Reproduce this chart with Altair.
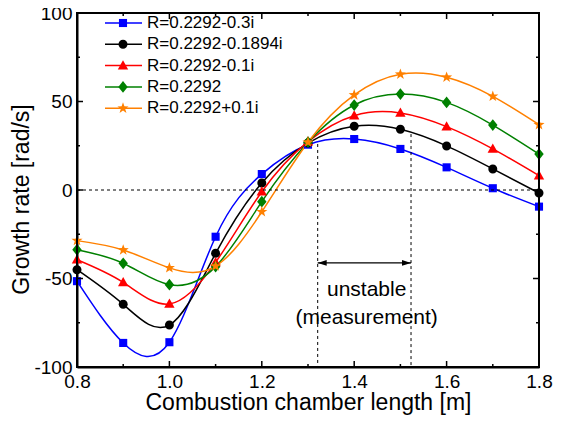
import altair as alt
import pandas as pd

# ---------------- data ----------------
lengths = [0.8, 0.9, 1.0, 1.1, 1.2, 1.3, 1.4, 1.5, 1.6, 1.7, 1.8]
series_names = ["R=0.2292-0.3i", "R=0.2292-0.1894i", "R=0.2292-0.1i", "R=0.2292", "R=0.2292+0.1i"]
blue_vals = [-51.5, -86.4, -86.0, -26.4, 9.0, 25.6, 28.8, 23.2, 12.8, 1.0, -9.4]
black_vals = [-45.0, -64.6, -76.3, -35.8, 4.0, 26.5, 36.0, 34.3, 24.9, 11.9, -1.7]
red_vals = [-39.4, -52.2, -64.4, -40.9, -1.0, 27.3, 42.0, 43.5, 35.8, 23.2, 8.1]
green_vals = [-33.7, -41.4, -53.5, -43.3, -6.6, 27.0, 48.0, 54.2, 49.5, 36.7, 20.3]
orange_vals = [-28.6, -33.9, -44.0, -43.0, -12.3, 27.0, 53.7, 65.4, 63.7, 52.9, 36.9]
colors = ["#0000FF", "#000000", "#FF0000", "#008000", "#FF8000"]

x_major = [0.8, 1.0, 1.2, 1.4, 1.6, 1.8]
x_minor = [0.9, 1.1, 1.3, 1.5, 1.7]
y_major = [-100, -50, 0, 50, 100]
y_minor = [-75, -25, 25, 75]

unstable_x = [1.321, 1.523]
unstable_top = [26.0, 31.6]
arrow_y = -41.2
note_x = 1.427
note_lines = ["unstable", "(measurement)"]
note_y = [-59.7, -75.7]

# ---------------- geometry / styles ----------------
W, H = 462, 354
FONT = "Liberation Sans"
X0, X1 = 0.8, 1.8
Y0, Y1 = -100, 100
px_x = (X1 - X0) / W
px_y = (Y1 - Y0) / H

LEG_LINE = (28, 65)
LEG_SYM = 46
LEG_TEXT = 70
LEG_ROW0, LEG_ROWSTEP = 10, 21.3

sq = "M-0.9,-0.9L0.9,-0.9L0.9,0.9L-0.9,0.9Z"
ci = "M1,0A1,1,0,1,1,-1,0A1,1,0,1,1,1,0Z"
tr = "M0,-1.2L1.15,0.85L-1.15,0.85Z"
di = "M0,-1.3L1.05,0L0,1.3L-1.05,0Z"
st = ("M0,-1.3L0.306,-0.421L1.236,-0.402L0.495,0.161L0.764,1.052L0,0.52"
      "L-0.764,1.052L-0.495,0.161L-1.236,-0.402L-0.306,-0.421Z")
marker_paths = [sq, ci, tr, di, st]
head = "M0,0L2,-0.65L2,0.65Z"

# ---------------- tables ----------------
all_vals = [blue_vals, black_vals, red_vals, green_vals, orange_vals]
rows = []
for name, vals in zip(series_names, all_vals):
    for xv, yv in zip(lengths, vals):
        rows.append({"x": xv, "y": yv, "series": name})
df = pd.DataFrame(rows)

leg_rows = []
for i, name in enumerate(series_names):
    yy = Y1 - (LEG_ROW0 + LEG_ROWSTEP * i) * px_y
    leg_rows.append({"series": name, "y": yy,
                     "x": X0 + LEG_LINE[0] * px_x, "x2": X0 + LEG_LINE[1] * px_x,
                     "xs": X0 + LEG_SYM * px_x, "xt": X0 + LEG_TEXT * px_x})
leg_df = pd.DataFrame(leg_rows)

# markers of the data and of the legend in one table
pts_df = pd.concat([df, pd.DataFrame({"x": leg_df["xs"], "y": leg_df["y"],
                                      "series": leg_df["series"]})], ignore_index=True)

dashed_df = pd.DataFrame([
    dict(x=X0, x2=X1, y=0, y2=0),
    dict(x=unstable_x[0], x2=unstable_x[0], y=unstable_top[0], y2=Y0),
    dict(x=unstable_x[1], x2=unstable_x[1], y=unstable_top[1], y2=Y0),
])
shaft_df = pd.DataFrame({"x": [unstable_x[0]], "x2": [unstable_x[1]], "y": [arrow_y]})
heads_df = pd.DataFrame({"x": unstable_x, "y": [arrow_y, arrow_y], "a": [0, 180]})
notes_df = pd.DataFrame({"x": [note_x] * len(note_lines), "y": note_y, "t": note_lines})

# ---------------- scales / axes ----------------
xscale = alt.Scale(domain=[X0, X1], nice=False, zero=False)
yscale = alt.Scale(domain=[Y0, Y1], nice=False, zero=False)
cscale = alt.Scale(domain=series_names, range=colors)
shscale = alt.Scale(domain=series_names, range=marker_paths)

xaxis = alt.Axis(values=x_major, labelExpr="format(datum.value, '.1f')", ticks=False,
                 domain=True, domainColor="black", domainWidth=2, grid=False,
                 labelFontSize=19, labelPadding=5,
                 labelFlush=False, labelOverlap=False,
                 title="Combustion chamber length [m]", titleFontSize=23,
                 titleFontWeight="normal", titlePadding=0, labelFont=FONT, titleFont=FONT,
                 labelColor="black", titleColor="black")
yaxis = alt.Axis(values=y_major, labelExpr="'' + datum.value", ticks=False,
                 domain=True, domainColor="black", domainWidth=2, grid=False,
                 labelFontSize=19, labelPadding=5,
                 labelFlush=False, labelOverlap=False,
                 title="Growth rate [rad/s]", titleFontSize=23, titleFontWeight="normal",
                 titlePadding=0, titleY=186, labelFont=FONT, titleFont=FONT,
                 labelColor="black", titleColor="black")

X = alt.X("x:Q", scale=xscale)
Y = alt.Y("y:Q", scale=yscale)

base = alt.Chart(df)

lines = base.mark_line(interpolate="natural", strokeWidth=1.5).encode(
    x=alt.X("x:Q", scale=xscale, axis=xaxis),
    y=alt.Y("y:Q", scale=yscale, axis=yaxis),
    color=alt.Color("series:N", scale=cscale, legend=None),
    detail="series:N",
)

points = alt.Chart(pts_df).mark_point(filled=True, size=81, opacity=1, strokeWidth=0).encode(
    x=X, y=Y,
    color=alt.Color("series:N", scale=cscale, legend=None),
    shape=alt.Shape("series:N", scale=shscale, legend=None),
)

leg_base = alt.Chart(leg_df)
leg_lines = leg_base.mark_rule(strokeWidth=1.5).encode(
    x=X, x2="x2:Q", y=Y,
    color=alt.Color("series:N", scale=cscale, legend=None),
)
leg_text = leg_base.mark_text(align="left", baseline="middle", fontSize=17, font=FONT,
                              color="black").encode(
    x=alt.X("xt:Q", scale=xscale), y=Y, text="series:N",
)

dashed_rules = alt.Chart(dashed_df).mark_rule(color="black", strokeWidth=1, strokeDash=[3, 3]).encode(
    x=X, x2="x2:Q", y=Y, y2="y2:Q",
)
shaft = alt.Chart(shaft_df).mark_rule(color="black", strokeWidth=1.3).encode(
    x=X, x2="x2:Q", y=Y,
)
heads = alt.Chart(heads_df).mark_point(
    shape=head, filled=True, size=81, opacity=1, color="black", strokeWidth=0
).encode(x=X, y=Y, angle=alt.Angle("a:Q", scale=None))

notes = alt.Chart(notes_df).mark_text(fontSize=21, font=FONT, color="black",
                                      align="center", baseline="alphabetic").encode(
    x=X, y=Y, text="t:N",
)

# frame of the plot area
one = pd.DataFrame({"k": [0]})
frame_layers = [
    alt.Chart(one).mark_rule(color="black", strokeWidth=2).encode(
        x=alt.value(0), y=alt.value(0), y2=alt.value(H)),
    alt.Chart(one).mark_rule(color="black", strokeWidth=2).encode(
        x=alt.value(W), y=alt.value(0), y2=alt.value(H)),
    alt.Chart(one).mark_rule(color="black", strokeWidth=2).encode(
        y=alt.value(0), x=alt.value(0), x2=alt.value(W)),
    alt.Chart(one).mark_rule(color="black", strokeWidth=2).encode(
        y=alt.value(H), x=alt.value(0), x2=alt.value(W)),
]

# inward ticks on all four sides
def vticks(vals, length, bottom):
    d = pd.DataFrame({"v": vals})
    y0 = H if bottom else 0
    y1 = H - length if bottom else length
    return alt.Chart(d).mark_rule(color="black", strokeWidth=1.5).encode(
        x=alt.X("v:Q", scale=xscale), y=alt.value(y0), y2=alt.value(y1))

def hticks(vals, length, left):
    d = pd.DataFrame({"v": vals})
    x0 = 0 if left else W
    x1 = length if left else W - length
    return alt.Chart(d).mark_rule(color="black", strokeWidth=1.5).encode(
        y=alt.Y("v:Q", scale=yscale), x=alt.value(x0), x2=alt.value(x1))

tick_layers = [
    vticks(x_major, 6, True), vticks(x_minor, 3, True),
    vticks(x_major, 6, False), vticks(x_minor, 3, False),
    hticks(y_major, 6, True), hticks(y_minor, 3, True),
    hticks(y_major, 6, False), hticks(y_minor, 3, False),
]

chart = alt.layer(
    lines, points, leg_lines, leg_text, dashed_rules, shaft, heads, notes,
    *frame_layers, *tick_layers,
).properties(
    width=W, height=H,
    autosize=alt.AutoSizeParams(type="none"),
    padding={"left": 69, "top": 5, "right": 14, "bottom": 52},
    background="white",
).configure_view(stroke="black", strokeWidth=2)

chart.save("out.html", embed_options={"renderer": "svg", "actions": False})
